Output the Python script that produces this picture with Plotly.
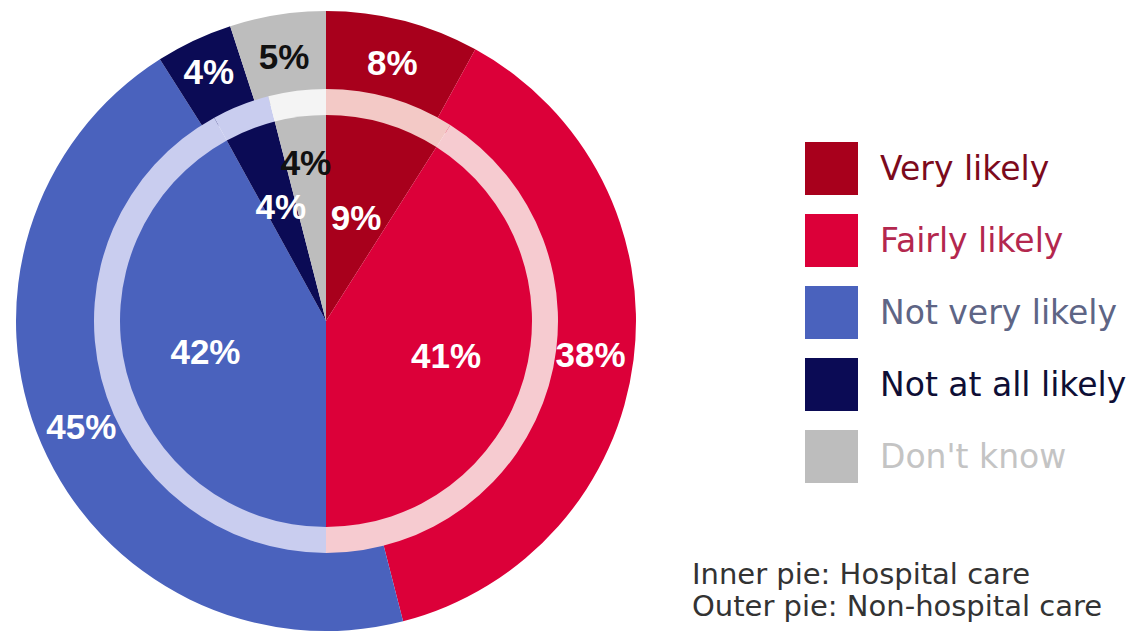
import plotly.graph_objects as go

categories = ["Very likely", "Fairly likely", "Not very likely", "Not at all likely", "Don't know"]
outer_values = [8, 38, 45, 4, 5]   # Non-hospital care
inner_values = [9, 41, 42, 4, 4]   # Hospital care

colors = ["#a8001c", "#dc0039", "#4a62bd", "#0b0b55", "#bdbdbd"]
pale_colors = ["#f3c9c6", "#f6cbd0", "#c9cdef", "#c9cdef", "#f4f4f4"]
label_colors = ["white", "white", "white", "white", "#111111"]
legend_text_colors = ["#7c0a1c", "#b3274e", "#5e6585", "#0e0e35", "#c4c4c4"]
# which text layer carries each inner label (style only)
inner_label_layer = ["near", "far", "far", "near", "mid"]

W, H = 1138, 637
OFF = 8  # page body margin in the browser
cx, cy = 326 - OFF, 321 - OFF  # pixel centre of the pies (from top)


def px(x):
    return (x - OFF) / W


def py(y):
    return (H - (y - OFF)) / H


def dom(r):
    return dict(x=[(cx - r) / W, (cx + r) / W],
                y=[(H - cy - r) / H, (H - cy + r) / H])


label_font = dict(family="Liberation Sans", size=35, weight="bold")
CLEAR = "rgba(0,0,0,0)"


def layer_text(layer):
    return [f"{v}%" if l == layer else "" for v, l in zip(inner_values, inner_label_layer)]


common = dict(sort=False, direction="clockwise", rotation=0, showlegend=False,
              hoverinfo="skip")

fig = go.Figure()
fig.add_trace(go.Pie(
    values=outer_values, labels=categories,
    text=[f"{v}%" for v in outer_values], textinfo="text",
    textposition="inside", insidetextorientation="horizontal",
    textfont=dict(color=label_colors, **label_font),
    marker=dict(colors=colors, line=dict(width=0)),
    hole=0.72, domain=dom(310), **common,
))
fig.add_trace(go.Pie(
    values=inner_values, labels=categories, textinfo="none",
    marker=dict(colors=pale_colors, line=dict(width=0)),
    hole=0.885, domain=dom(232), **common,
))
fig.add_trace(go.Pie(
    values=inner_values, labels=categories, textinfo="none",
    marker=dict(colors=colors, line=dict(width=0)),
    domain=dom(206), **common,
))
# label-only layers (transparent) that position the inner pie's labels
for layer, radius in [("near", 138), ("mid", 180), ("far", 245)]:
    fig.add_trace(go.Pie(
        values=inner_values, labels=categories,
        text=layer_text(layer), textinfo="text",
        textposition="inside", insidetextorientation="horizontal",
        textfont=dict(color=label_colors, **label_font),
        marker=dict(colors=[CLEAR] * 5, line=dict(width=0)),
        domain=dom(radius), **common,
    ))

shapes, annotations = [], []
sq_x0, sq_x1, sq = 805, 858, 53
row_top0, row_step = 142, 72
for i, (cat, col, tcol) in enumerate(zip(categories, colors, legend_text_colors)):
    top = row_top0 + i * row_step
    shapes.append(dict(type="rect", xref="paper", yref="paper",
                       x0=px(sq_x0), x1=px(sq_x1),
                       y0=py(top + sq), y1=py(top),
                       fillcolor=col, line=dict(width=0)))
    annotations.append(dict(xref="paper", yref="paper", x=px(878),
                            y=py(top + sq / 2), text=cat,
                            xanchor="left", yanchor="middle", showarrow=False,
                            font=dict(family="DejaVu Sans", size=33, color=tcol)))

annotations.append(dict(xref="paper", yref="paper", x=px(690), y=py(574),
                        text="Inner pie: Hospital care", xanchor="left", yanchor="middle",
                        showarrow=False, font=dict(family="DejaVu Sans", size=29, color="#333333")))
annotations.append(dict(xref="paper", yref="paper", x=px(690), y=py(606),
                        text="Outer pie: Non-hospital care", xanchor="left", yanchor="middle",
                        showarrow=False, font=dict(family="DejaVu Sans", size=29, color="#333333")))

fig.update_layout(width=W, height=H, margin=dict(l=0, r=0, t=0, b=0),
                  paper_bgcolor="white", plot_bgcolor="white",
                  uniformtext=dict(minsize=35, mode="show"),
                  shapes=shapes, annotations=annotations, showlegend=False)

fig.write_html("out.html")
